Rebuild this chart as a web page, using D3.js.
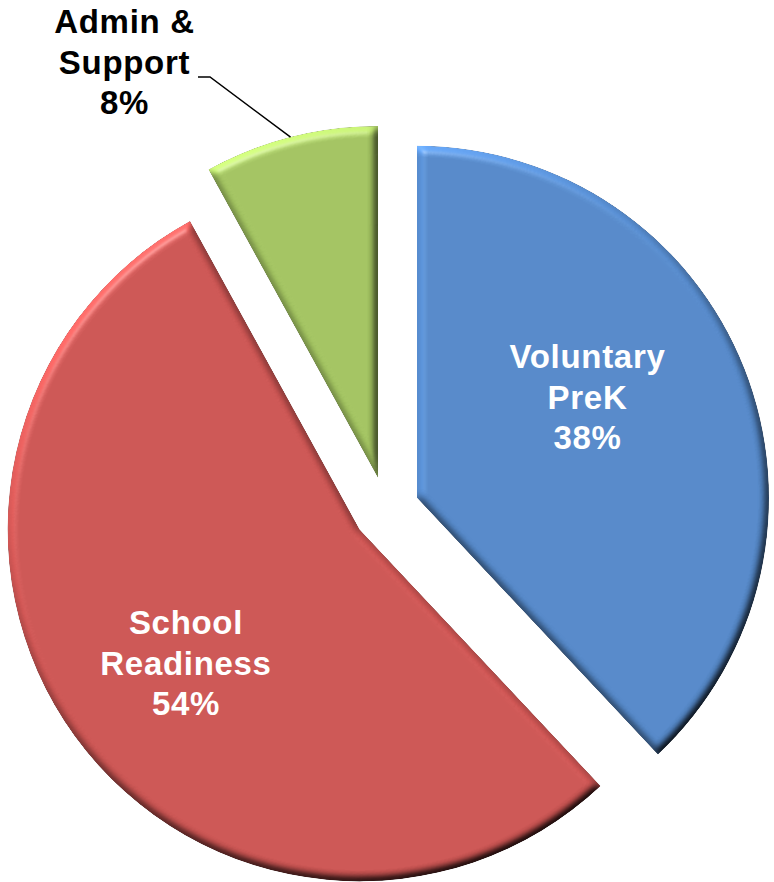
<!DOCTYPE html>
<html>
<head>
<meta charset="utf-8">
<script src="https://cdn.jsdelivr.net/npm/d3@7"></script>
<style>
  html, body { margin: 0; padding: 0; background: #ffffff; }
  svg { display: block; }
</style>
</head>
<body>
<svg id="chart" width="774" height="882"></svg>
<script>
// ---- data ----
const categories = ["Voluntary PreK", "School Readiness", "Admin & Support"];
const labelLines = [["Voluntary", "PreK"], ["School", "Readiness"], ["Admin &", "Support"]];
const shares = [38, 54, 8];
const percentLabels = ["38%", "54%", "8%"];

// ---- layout / style ----
const W = 774, H = 882;
const cx = 386.3, cy = 510, R = 352, explode = 33;
const colors = ["#5589CA", "#CD5553", "#A3C461"];
const labelColors = ["#ffffff", "#ffffff", "#000000"];
const labelPos = [[587.5, 397], [186, 663], [124.5, 62]];
const fontSize = 33, lineH = 40.5;

const svg = d3.select("#chart");
const defs = svg.append("defs");
const f = defs.append("filter").attr("id", "bevel")
  .attr("x", "-5%").attr("y", "-5%").attr("width", "110%").attr("height", "110%")
  .attr("color-interpolation-filters", "sRGB");
f.append("feGaussianBlur").attr("in", "SourceAlpha").attr("stdDeviation", 4.5).attr("result", "blur");
const dl = f.append("feDiffuseLighting").attr("in", "blur").attr("surfaceScale", 5)
  .attr("diffuseConstant", 1).attr("lighting-color", "#ffffff").attr("result", "light");
dl.append("feDistantLight").attr("azimuth", 240).attr("elevation", 50);
f.append("feComposite").attr("in", "SourceGraphic").attr("in2", "light")
  .attr("operator", "arithmetic").attr("k1", 1 / Math.sin(50 * Math.PI / 180))
  .attr("k2", 0).attr("k3", 0).attr("k4", 0).attr("result", "lit");
const sl = f.append("feSpecularLighting").attr("in", "blur").attr("surfaceScale", 5)
  .attr("specularConstant", 0.3).attr("specularExponent", 40)
  .attr("lighting-color", "#ffffff").attr("result", "spec");
sl.append("feDistantLight").attr("azimuth", 240).attr("elevation", 50);
f.append("feComposite").attr("in", "spec").attr("in2", "SourceAlpha").attr("operator", "in").attr("result", "specIn");
const mg = f.append("feMerge").attr("result", "merged");
mg.append("feMergeNode").attr("in", "lit");
mg.append("feMergeNode").attr("in", "specIn");
f.append("feComposite").attr("in", "merged").attr("in2", "SourceAlpha").attr("operator", "in");

const pie = d3.pie().sort(null).value(d => d)(shares);
const arc = d3.arc().innerRadius(0).outerRadius(R);

const slices = svg.append("g");
const offs = pie.map(p => {
  const a = (p.startAngle + p.endAngle) / 2;
  return [cx + explode * Math.sin(a), cy - explode * Math.cos(a)];
});

slices.selectAll("path").data(pie).join("path")
  .attr("transform", (d, i) => `translate(${offs[i][0]},${offs[i][1]})`)
  .attr("d", arc)
  .attr("fill", (d, i) => colors[i])
  .attr("filter", "url(#bevel)");

// leader line for the small slice label
const gi = 2, ga = (pie[gi].startAngle + pie[gi].endAngle) / 2;
const tip = [offs[gi][0] + R * Math.sin(ga), offs[gi][1] - R * Math.cos(ga)];
svg.append("polyline")
  .attr("points", [[198, 77], [210, 77], tip].map(p => p.join(",")).join(" "))
  .attr("fill", "none").attr("stroke", "#000").attr("stroke-width", 1.5);

// labels
const lab = svg.append("g")
  .attr("font-family", "'Liberation Sans', Arial, sans-serif")
  .attr("font-weight", "bold").attr("font-size", fontSize).attr("text-anchor", "middle")
  .attr("letter-spacing", 0.7);
categories.forEach((c, i) => {
  const lines = labelLines[i].concat([percentLabels[i]]);
  const t = lab.append("text").attr("fill", labelColors[i])
    .attr("x", labelPos[i][0]).attr("y", labelPos[i][1]);
  lines.forEach((ln, j) => {
    t.append("tspan").attr("x", labelPos[i][0])
      .attr("y", labelPos[i][1] + (j - 1) * lineH + fontSize * 0.36)
      .text(ln);
  });
});
</script>
</body>
</html>
